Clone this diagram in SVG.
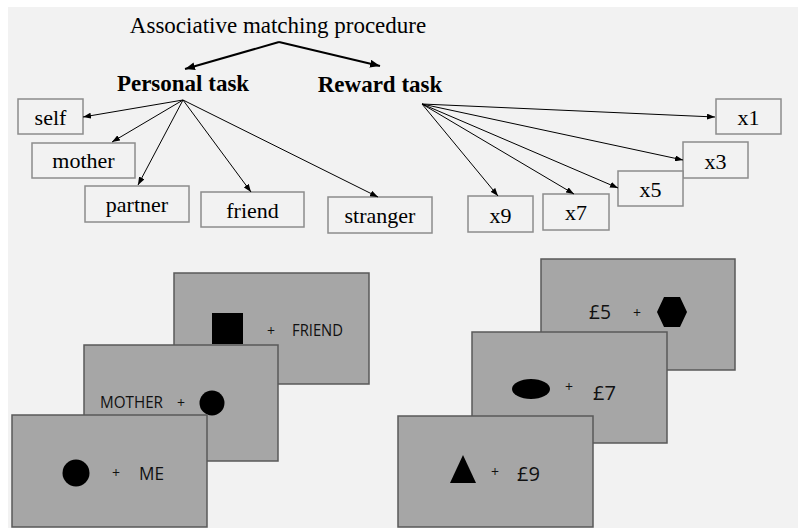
<svg xmlns="http://www.w3.org/2000/svg" width="798" height="529" viewBox="0 0 798 529">
<style>
.serif{font-family:"Liberation Serif","Times New Roman",serif;fill:#000}
.title{font-size:23px}
.task{font-size:23px;font-weight:bold}
.lbl{font-size:22px}
.box{fill:#f2f2f2;stroke:#8c8c8c;stroke-width:1.5}
.slide{fill:#a6a6a6;stroke:#595959;stroke-width:1.5}
.st{font-family:"Open Sans","Noto Sans",sans-serif;fill:#111}
.plus{font-family:"Open Sans","Noto Sans",sans-serif;fill:#111;font-size:14px}
.conn{stroke:#000;stroke-width:1;fill:none}
.thick{stroke:#000;stroke-width:2;fill:none}
</style>
<defs>
<marker id="ah" markerUnits="userSpaceOnUse" markerWidth="8" markerHeight="6" refX="8" refY="3" orient="auto"><path d="M0,0 L8,3 L0,6 Z" fill="#000"/></marker>
<marker id="ahb" markerUnits="userSpaceOnUse" markerWidth="10" markerHeight="8" refX="10" refY="4" orient="auto"><path d="M0,0 L10,4 L0,8 Z" fill="#000"/></marker>
</defs>
<rect x="8" y="7" width="790" height="521" fill="#f2f2f2"/>

<g id="title"><text class="serif title" x="278" y="33" text-anchor="middle">Associative matching procedure</text></g>
<g id="personal"><text class="serif task" x="183" y="91" text-anchor="middle">Personal task</text></g>
<g id="reward"><text class="serif task" x="380" y="92" text-anchor="middle">Reward task</text></g>

<g id="self"><rect class="box" x="18" y="99" width="65" height="35"/><text class="serif lbl" x="50.5" y="125" text-anchor="middle">self</text></g>
<g id="mother"><rect class="box" x="32" y="143" width="103" height="35"/><text class="serif lbl" x="83.5" y="168" text-anchor="middle">mother</text></g>
<g id="partner"><rect class="box" x="85" y="186" width="104" height="36"/><text class="serif lbl" x="137" y="212" text-anchor="middle">partner</text></g>
<g id="friend"><rect class="box" x="201" y="192" width="103" height="35"/><text class="serif lbl" x="252.5" y="218" text-anchor="middle">friend</text></g>
<g id="stranger"><rect class="box" x="328" y="197" width="104" height="36"/><text class="serif lbl" x="380" y="223" text-anchor="middle">stranger</text></g>

<g id="x1"><rect class="box" x="716" y="99" width="65" height="35"/><text class="serif lbl" x="748.5" y="125" text-anchor="middle">x1</text></g>
<g id="x3"><rect class="box" x="683" y="142" width="65" height="36"/><text class="serif lbl" x="715.5" y="169" text-anchor="middle">x3</text></g>
<g id="x5"><rect class="box" x="618" y="171" width="65" height="35"/><text class="serif lbl" x="650.5" y="197" text-anchor="middle">x5</text></g>
<g id="x7"><rect class="box" x="543" y="194" width="66" height="36"/><text class="serif lbl" x="576" y="220" text-anchor="middle">x7</text></g>
<g id="x9"><rect class="box" x="468" y="196" width="65" height="36"/><text class="serif lbl" x="500.5" y="223" text-anchor="middle">x9</text></g>

<g id="connectors">
<line class="thick" x1="279" y1="42" x2="185" y2="69" marker-end="url(#ahb)"/>
<line class="thick" x1="279" y1="42" x2="380" y2="66" marker-end="url(#ahb)"/>
<line class="conn" x1="183" y1="100" x2="83" y2="117" marker-end="url(#ah)"/>
<line class="conn" x1="183" y1="100" x2="112" y2="142" marker-end="url(#ah)"/>
<line class="conn" x1="183" y1="100" x2="138" y2="185" marker-end="url(#ah)"/>
<line class="conn" x1="183" y1="100" x2="251" y2="192" marker-end="url(#ah)"/>
<line class="conn" x1="183" y1="100" x2="378" y2="197" marker-end="url(#ah)"/>
<line class="conn" x1="422" y1="104" x2="715" y2="117" marker-end="url(#ah)"/>
<line class="conn" x1="422" y1="104" x2="683" y2="160" marker-end="url(#ah)"/>
<line class="conn" x1="422" y1="104" x2="618" y2="188" marker-end="url(#ah)"/>
<line class="conn" x1="422" y1="104" x2="574" y2="194" marker-end="url(#ah)"/>
<line class="conn" x1="422" y1="104" x2="498" y2="196" marker-end="url(#ah)"/>
</g>

<g id="slide-friend"><rect class="slide" x="174" y="273" width="195" height="111"/><rect x="212" y="313" width="31" height="31" fill="#000"/><text class="plus" x="271" y="336" text-anchor="middle">+</text><text class="st" x="292" y="336" font-size="17" textLength="51" lengthAdjust="spacingAndGlyphs">FRIEND</text></g>
<g id="slide-mother"><rect class="slide" x="84" y="345" width="194" height="116"/><text class="st" x="100" y="408" font-size="17" textLength="63" lengthAdjust="spacingAndGlyphs">MOTHER</text><text class="plus" x="181" y="408" text-anchor="middle">+</text><circle cx="212" cy="403" r="12.5" fill="#000"/></g>
<g id="slide-me"><rect class="slide" x="12" y="415" width="195" height="112"/><circle cx="76" cy="473" r="13.5" fill="#000"/><text class="plus" x="116" y="478" text-anchor="middle">+</text><text class="st" x="139" y="480" font-size="17.5" textLength="25" lengthAdjust="spacingAndGlyphs">ME</text></g>

<g id="slide-5"><rect class="slide" x="541" y="259" width="194" height="111"/><text class="st" x="589" y="319" font-size="20" textLength="22" lengthAdjust="spacingAndGlyphs">£5</text><text class="plus" x="637" y="318" text-anchor="middle">+</text><polygon points="657,312 664,297 680,297 687,312 680,327 664,327" fill="#000"/></g>
<g id="slide-7"><rect class="slide" x="472" y="332" width="195" height="111"/><ellipse cx="531" cy="389" rx="19" ry="10" fill="#000"/><text class="plus" x="569" y="392" text-anchor="middle">+</text><text class="st" x="593" y="400" font-size="20" textLength="23" lengthAdjust="spacingAndGlyphs">£7</text></g>
<g id="slide-9"><rect class="slide" x="398" y="416" width="195" height="111"/><polygon points="463,455 476,483 450,483" fill="#000"/><text class="plus" x="495" y="477" text-anchor="middle">+</text><text class="st" x="517" y="481" font-size="20" textLength="23" lengthAdjust="spacingAndGlyphs">£9</text></g>
</svg>
